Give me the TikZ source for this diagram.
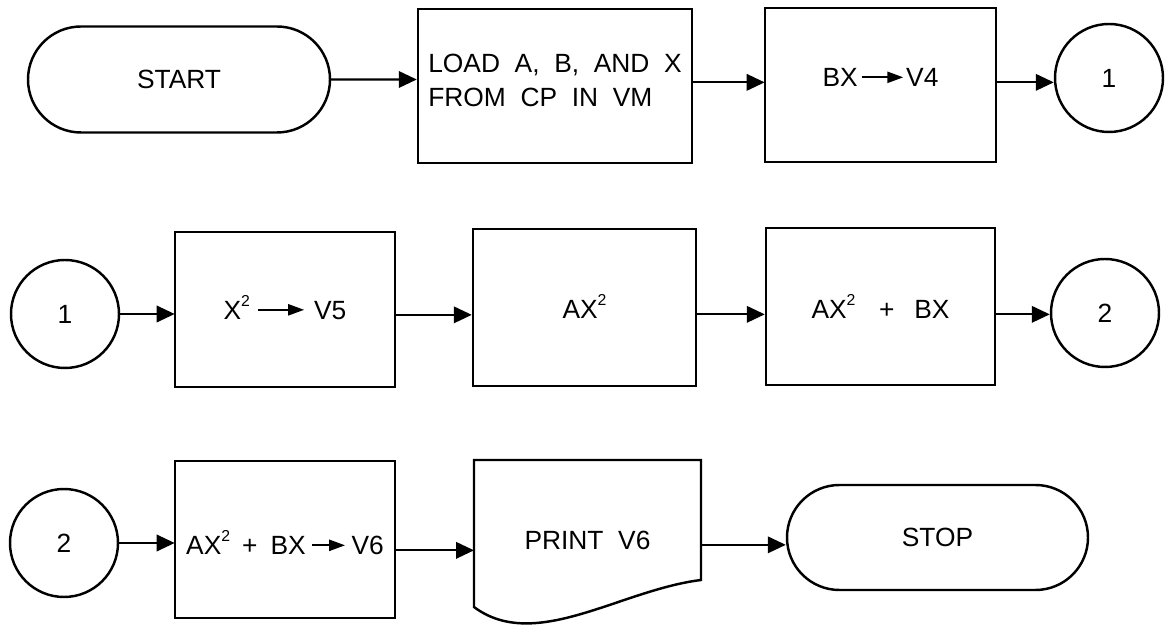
\documentclass[tikz,border=0pt]{standalone}
\usepackage{fontspec}
\setmainfont{Liberation Sans}[WordSpace=2]
\usetikzlibrary{shapes.misc,arrows.meta}

% small arrow used inside the box texts
\newcommand{\rarr}[1]{\tikz[baseline=-5.5pt]\draw[line width=1.3pt,-{Triangle[length=0.32cm,width=0.22cm]}] (0,0) -- (#1,0);}
% small raised square sign
\newcommand{\sqr}{\raisebox{0.5em}{\fontsize{9pt}{9pt}\selectfont 2}}

\begin{document}
\begin{tikzpicture}[
	font=\fontsize{15pt}{18pt}\selectfont,
	line width=1.4pt,
	box/.style={draw, rectangle, inner sep=0pt},
	term/.style={draw, rounded rectangle, minimum width=6.04cm, minimum height=2.12cm, inner sep=0pt},
	conn/.style={draw, circle, minimum size=2.16cm, inner sep=0pt},
	flow/.style={line width=1.2pt, -{Triangle[length=0.36cm,width=0.33cm]}}
]
	\useasboundingbox (0,0) rectangle (23.34,12.5);
	% first row
	\node[term] (start) at (3.58,10.91) {START};
	\node[box, minimum width=5.48cm, text height=1.27cm, text depth=1.81cm] (load) at (11.10,10.78)
		{\begin{tabular}[t]{@{}l@{}}LOAD A, B, AND X\\[1.5pt]FROM CP IN VM\end{tabular}};
	\node[box, minimum width=4.62cm, text height=1.58cm, text depth=1.50cm] (bx) at (17.61,10.80) {BX\hspace{2pt}\rarr{0.82}\hspace{1pt}V4};
	\node[conn] (c1) at (22.18,10.94) {1};
	% second row
	\node[conn] (c1b) at (1.30,6.22) {1};
	\node[box, minimum width=4.40cm, text height=1.75cm, text depth=1.35cm] (sq) at (5.70,6.31) {X\sqr\hspace{4pt}\rarr{0.92}\hspace{5pt}V5};
	\node[box, minimum width=4.46cm, text height=1.80cm, text depth=1.34cm] (ax) at (11.69,6.35) {AX\sqr};
	\node[box, minimum width=4.58cm, text height=1.82cm, text depth=1.32cm] (axbx) at (17.61,6.37) {AX\sqr\hspace{0.9em}+\hspace{0.75em}BX};
	\node[conn] (c2) at (22.10,6.24) {2};
	% third row
	\node[conn] (c2b) at (1.28,1.64) {2};
	\node[box, minimum width=4.40cm, text height=1.88cm, text depth=1.26cm] (sum) at (5.70,1.71) {AX\sqr\hspace{0.45em}+\hspace{0.5em}BX\hspace{3pt}\rarr{0.66}\hspace{3pt}V6};
	\node[inner sep=0pt, outer sep=0pt, minimum width=4.54cm, text height=1.79cm, text depth=0.61cm] (prt) at (11.75,2.10) {PRINT V6};
	\draw (prt.south east) -- (prt.north east) -- (prt.north west) -- (9.48,0.36) .. controls (10.70,-0.55) and (12.40,0.70) .. (prt.south east) -- cycle;
	\node[term, minimum width=6.02cm, minimum height=2.10cm] (stop) at (18.75,1.75) {STOP};
	% connectors
	\draw[flow] (start) -- (start -| load.west);
	\draw[flow] (load.east |- bx.mid west) -- (bx.mid west);
	\draw[flow] (bx.mid east) -- (bx.mid east -| c1.west);
	\draw[flow] (c1b) -- (c1b -| sq.west);
	\draw[flow] (sq.mid east) -- (sq.mid east -| ax.west);
	\draw[flow] (ax.mid east) -- (ax.mid east -| axbx.west);
	\draw[flow] (axbx.mid east) -- (axbx.mid east -| c2.west);
	\draw[flow] (c2b) -- (c2b -| sum.west);
	\draw[flow] (sum.mid east) -- (sum.mid east -| prt.west);
	\draw[flow] (prt.mid east) -- (prt.mid east -| stop.west);
\end{tikzpicture}
\end{document}
